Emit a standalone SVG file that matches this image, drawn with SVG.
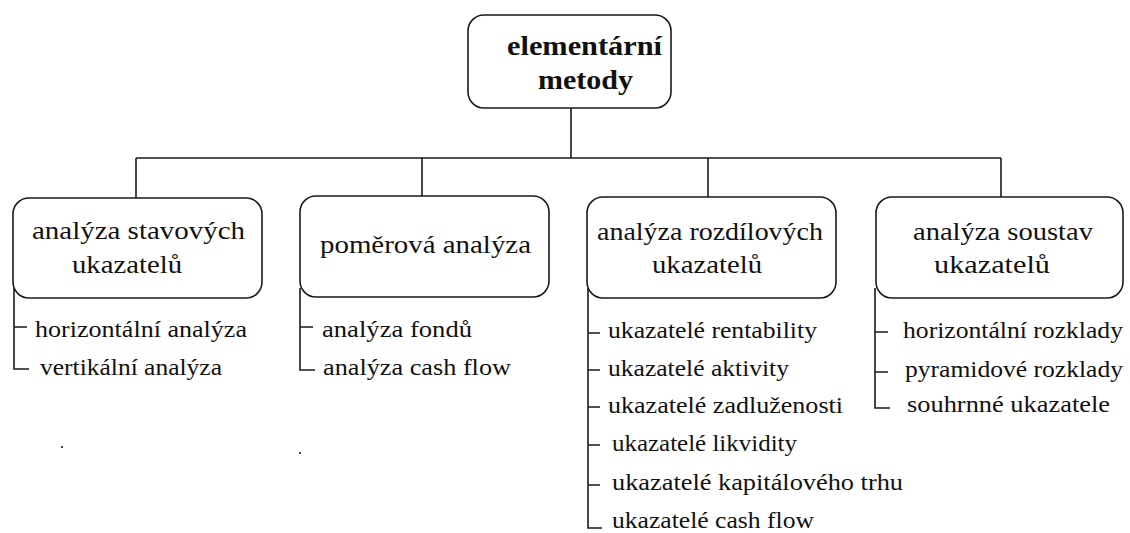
<svg xmlns="http://www.w3.org/2000/svg" width="1130" height="533" viewBox="0 0 1130 533">
  <style>
    .box { fill: #ffffff; stroke: #1a1a1a; stroke-width: 1.6; }
    .wire { fill: none; stroke: #1a1a1a; stroke-width: 1.6; }
    text { font-family: "Liberation Serif", "DejaVu Serif", serif; fill: #111; }
    .title { font-weight: bold; font-size: 27px; }
    .head { font-size: 25px; }
    .item { font-size: 23px; }
  </style>
  <rect width="1130" height="533" fill="#ffffff"/>

  <!-- tree connectors -->
  <g id="connectors" class="wire">
    <path d="M571 108 V158"/>
    <path d="M136 158 H1001"/>
    <path d="M136 158 V198"/>
    <path d="M422 158 V196"/>
    <path d="M708 158 V197"/>
    <path d="M1001 158 V197"/>
    <!-- sub-item brackets -->
    <path d="M14 288 V369 H29 M14 327 H27"/>
    <path d="M300 288 V370 H315 M300 327 H313"/>
    <path d="M588 288 V528 H602 M588 333 H600 M588 370 H600 M588 407 H600 M588 445 H600 M588 485 H600"/>
    <path d="M875 288 V408 H890 M875 332 H888 M875 372 H888"/>
  </g>

  <g id="root">
    <rect class="box" x="468" y="15" width="203" height="93" rx="16"/>
    <text class="title" x="507" y="55" textLength="155" lengthAdjust="spacingAndGlyphs">elementární</text>
    <text class="title" x="538" y="89" textLength="95" lengthAdjust="spacingAndGlyphs">metody</text>
  </g>

  <g id="stavove">
    <rect class="box" x="13" y="198" width="249" height="100" rx="16"/>
    <text class="head" x="32" y="239" textLength="213" lengthAdjust="spacingAndGlyphs">analýza stavových</text>
    <text class="head" x="72" y="273" textLength="110" lengthAdjust="spacingAndGlyphs">ukazatelů</text>
    <text class="item" x="35" y="337" textLength="212" lengthAdjust="spacingAndGlyphs">horizontální analýza</text>
    <text class="item" x="40" y="375" textLength="182" lengthAdjust="spacingAndGlyphs">vertikální analýza</text>
  </g>

  <g id="pomerova">
    <rect class="box" x="300" y="196" width="249" height="101" rx="16"/>
    <text class="head" x="320" y="253" textLength="211" lengthAdjust="spacingAndGlyphs">poměrová analýza</text>
    <text class="item" x="322" y="337" textLength="150" lengthAdjust="spacingAndGlyphs">analýza fondů</text>
    <text class="item" x="323" y="375" textLength="188" lengthAdjust="spacingAndGlyphs">analýza cash flow</text>
  </g>

  <g id="rozdilove">
    <rect class="box" x="587" y="197" width="249" height="101" rx="16"/>
    <text class="head" x="597" y="240" textLength="226" lengthAdjust="spacingAndGlyphs">analýza rozdílových</text>
    <text class="head" x="652" y="273" textLength="110" lengthAdjust="spacingAndGlyphs">ukazatelů</text>
    <text class="item" x="608" y="338" textLength="209" lengthAdjust="spacingAndGlyphs">ukazatelé rentability</text>
    <text class="item" x="608" y="376" textLength="181" lengthAdjust="spacingAndGlyphs">ukazatelé aktivity</text>
    <text class="item" x="608" y="413" textLength="235" lengthAdjust="spacingAndGlyphs">ukazatelé zadluženosti</text>
    <text class="item" x="612" y="451" textLength="185" lengthAdjust="spacingAndGlyphs">ukazatelé likvidity</text>
    <text class="item" x="612" y="490" textLength="291" lengthAdjust="spacingAndGlyphs">ukazatelé kapitálového trhu</text>
    <text class="item" x="612" y="528" textLength="202" lengthAdjust="spacingAndGlyphs">ukazatelé cash flow</text>
  </g>

  <g id="soustavy">
    <rect class="box" x="876" y="197" width="247" height="101" rx="16"/>
    <text class="head" x="913" y="240" textLength="180" lengthAdjust="spacingAndGlyphs">analýza soustav</text>
    <text class="head" x="934" y="273" textLength="116" lengthAdjust="spacingAndGlyphs">ukazatelů</text>
    <text class="item" x="903" y="338" textLength="220" lengthAdjust="spacingAndGlyphs">horizontální rozklady</text>
    <text class="item" x="905" y="377" textLength="218" lengthAdjust="spacingAndGlyphs">pyramidové rozklady</text>
    <text class="item" x="907" y="412" textLength="203" lengthAdjust="spacingAndGlyphs">souhrnné ukazatele</text>
  </g>

  <!-- stray specks -->
  <g id="specks" fill="#444">
    <rect x="61" y="446" width="2" height="2"/>
    <rect x="299" y="452" width="2" height="2"/>
  </g>
</svg>
